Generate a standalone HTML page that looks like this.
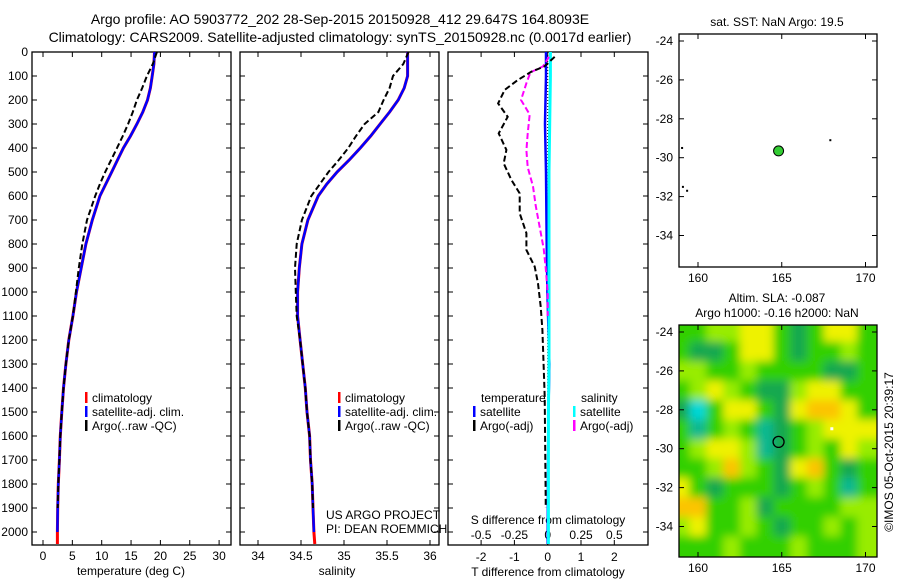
<!DOCTYPE html>
<html><head><meta charset="utf-8"><style>
html,body{margin:0;padding:0;background:#fff}
svg{display:block;font-family:"Liberation Sans",sans-serif;font-size:12px}
</style></head><body>
<svg id="chart" width="900" height="580" viewBox="0 0 900 580" xmlns="http://www.w3.org/2000/svg">
<defs>
<clipPath id="clipMap"><rect x="679" y="325" width="198" height="232"/></clipPath>
<filter id="blur" x="-20%" y="-20%" width="140%" height="140%"><feGaussianBlur stdDeviation="4.5"/></filter>
</defs>
<text x="340" y="24" text-anchor="middle" font-size="14">Argo profile: AO 5903772_202 28-Sep-2015 20150928_412 29.647S 164.8093E</text>
<text x="340" y="42" text-anchor="middle" font-size="14">Climatology: CARS2009. Satellite-adjusted climatology: synTS_20150928.nc (0.0017d earlier)</text>
<g id="g"></g>
<text x="777" y="26" text-anchor="middle">sat. SST: NaN Argo: 19.5</text>
<text x="777" y="302" text-anchor="middle">Altim. SLA: -0.087</text>
<text x="777" y="317" text-anchor="middle">Argo h1000: -0.16 h2000: NaN</text>
<text x="326" y="519">US ARGO PROJECT</text>
<text x="326" y="533">PI: DEAN ROEMMICH</text>
<text transform="translate(893,452) rotate(-90)" text-anchor="middle">©IMOS 05-Oct-2015 20:39:17</text>
</svg>
<script>
const depths=[0,50,100,150,200,250,300,350,400,450,500,550,600,700,800,900,1000,1100,1200,1300,1400,1500,1600,1700,1800,1900,2000,2050];
const tempClim=[19.0,18.9,18.6,18.3,17.8,17.0,16.0,14.9,13.7,12.7,11.7,10.7,9.7,8.4,7.3,6.5,5.7,5.1,4.4,3.9,3.5,3.2,2.95,2.8,2.6,2.5,2.45,2.45];
const tempArgo=[19.4,18.7,17.7,16.9,16.0,15.3,14.5,13.6,12.6,11.6,10.6,9.7,8.9,7.5,6.7,6.1,5.6,5.1,4.4,3.9,3.5,3.2,2.95,2.8,2.6,2.5];
const salClim=[35.74,35.74,35.74,35.70,35.63,35.53,35.42,35.31,35.19,35.06,34.92,34.80,34.70,34.58,34.51,34.48,34.46,34.46,34.49,34.52,34.55,34.57,34.60,34.61,34.63,34.64,34.65,34.66];
const salArgo=[35.75,35.69,35.57,35.53,35.46,35.40,35.24,35.14,35.05,34.94,34.82,34.72,34.62,34.51,34.45,34.43,34.44,34.45,34.49,34.52,34.55,34.57,34.60,34.61,34.63,34.64];
const tdDepths=[20,60,82,117,158,214,270,339,408,464,533,589,672,755,825,894,964,1061,1158,1436,1867,1900];
const tdArgo=[0.21,-0.1,-0.49,-0.9,-1.29,-1.49,-1.2,-1.47,-1.24,-1.32,-1.09,-0.84,-0.84,-0.64,-0.64,-0.39,-0.29,-0.21,-0.16,-0.09,-0.06,-0.06];
const sdDepths=[20,60,85,130,200,260,340,410,480,560,640,730,820,900,1000,1100];
const sdArgo=[0.01,-0.035,-0.13,-0.16,-0.2,-0.135,-0.15,-0.16,-0.15,-0.11,-0.09,-0.06,-0.03,-0.015,0,0];
const satDepths=[0,100,300,500,800,1000,1300,1500,2000,2050];
const tdSat=[-0.05,-0.05,-0.08,-0.05,-0.03,-0.01,0.05,0.02,0.0,0.0];
const sdSat=[0.02,0.02,0.015,0.01,0.01,0.01,0.01,0.005,0.005,0.005];
const depthTicks=[0,100,200,300,400,500,600,700,800,900,1000,1100,1200,1300,1400,1500,1600,1700,1800,1900,2000];
const tempTicks=[0,5,10,15,20,25,30];
const salTicks=[34,34.5,35,35.5,36];
const tdTicks=[-2,-1,0,1,2];
const sdTicks=[-0.5,-0.25,0,0.25,0.5];
const sdTickLabels=["-0.5","-0.25","0","0.25","0.5"];
const latTicks=[-24,-26,-28,-30,-32,-34];
const lonTicks=[160,165,170];
const gridLons=[159,160,161,162,163,164,165,166,167,168,169,170];
const gridLats=[-24,-25,-26,-27,-28,-29,-30,-31,-32,-33,-34,-35];
const slaGrid=[
[3,3,4,4,5,5,3,2,3,5,5,3],
[3,2,2,3,5,5,3,2,3,3,4,3],
[4,4,3,3,4,3,3,3,3,2,2,3],
[3,4,5,4,3,2,2,4,5,5,3,3],
[2,0,3,5,5,3,2,5,6,6,5,3],
[3,1,3,4,3,1,2,3,4,5,5,5],
[3,4,5,5,4,1,2,3,4,3,5,4],
[3,3,4,6,4,3,2,5,6,3,2,3],
[5,3,2,3,3,3,2,3,4,3,1,3],
[6,6,3,3,4,2,3,3,3,3,4,4],
[4,5,3,3,4,3,2,3,3,4,3,4],
[3,3,3,4,3,3,3,4,3,3,3,4]];
const argoLon=164.81, argoLat=-29.65;
const otherLons=[167.9,159.05,159.1,159.35];
const otherLats=[-29.1,-29.5,-31.5,-31.7];

const NS="http://www.w3.org/2000/svg";
const G=document.getElementById('g');
function mk(tag,attrs,parent){const e=document.createElementNS(NS,tag);for(const k in attrs)e.setAttribute(k,attrs[k]);(parent||G).appendChild(e);return e;}
function txt(x,y,s,anchor,parent){const t=mk('text',{x:x,y:y,'text-anchor':anchor||'middle'},parent);t.textContent=s;return t;}
const yD=d=>52+0.24*d;
const xT=t=>43+5.87*t;
const xS=s=>258+86*(s-34);
const xTD=t=>547.7+33.3*t;
const xSD=s=>547.7+133.3*s;
const PT=52,PB=545;
function panel(name,x0,x1){
  const r=mk('rect',{x:x0,y:PT,width:x1-x0,height:PB-PT,fill:'none',stroke:'#000','stroke-width':1.3});
  
  
  depthTicks.forEach(d=>{mk('line',{x1:x0,x2:x0+5,y1:yD(d),y2:yD(d),stroke:'#000'});mk('line',{x1:x1-5,x2:x1,y1:yD(d),y2:yD(d),stroke:'#000'});});
}
function path(xs,ys,xf,color,w,dash,name){
  let d='';for(let i=0;i<xs.length;i++)d+=(i?'L':'M')+xf(xs[i]).toFixed(1)+','+yD(ys[i]).toFixed(1);
  const p=mk('path',{d:d,fill:'none',stroke:color,'stroke-width':w});
  if(dash)p.setAttribute('stroke-dasharray',dash);
  
  
}
panel('temperature-panel',32,231);
depthTicks.forEach(d=>{const t=txt(28,yD(d)+4,String(d),'end');});
tempTicks.forEach(v=>{mk('line',{x1:xT(v),x2:xT(v),y1:PB-5,y2:PB,stroke:'#000'});mk('line',{x1:xT(v),x2:xT(v),y1:PT,y2:PT+5,stroke:'#000'});const t=txt(xT(v),560,String(v));});
const tl=txt(131,575,'temperature (deg C)');
path(tempClim,depths,xT,'#f00',3,null,'temperature-climatology-line');
path(tempClim.slice(0,27),depths.slice(0,27),xT,'#00f',2.5,null,'temperature-satellite-line');
path(tempArgo,depths.slice(0,tempArgo.length),xT,'#000',2,'6,3','temperature-argo-line');
panel('salinity-panel',240,439);
salTicks.forEach(v=>{mk('line',{x1:xS(v),x2:xS(v),y1:PB-5,y2:PB,stroke:'#000'});mk('line',{x1:xS(v),x2:xS(v),y1:PT,y2:PT+5,stroke:'#000'});const t=txt(xS(v),560,String(v));});
const sl=txt(337,575,'salinity');
path(salClim,depths,xS,'#f00',3,null,'salinity-climatology-line');
path(salClim.slice(0,27),depths.slice(0,27),xS,'#00f',2.5,null,'salinity-satellite-line');
path(salArgo,depths.slice(0,salArgo.length),xS,'#000',2,'6,3','salinity-argo-line');
function legend(x,y,color,label,name){
  const g=mk('g',{});
  
  
  mk('rect',{x:x,y:y-10,width:2.5,height:11,fill:color},g);txt(x+7,y,label,'start',g);
}
[[85,'temperature'],[338,'salinity']].forEach(([x,n])=>{
  legend(x,402,'#f00','climatology',n+'-legend-climatology');
  legend(x,416,'#00f','satellite-adj. clim.',n+'-legend-satellite');
  legend(x,430,'#000','Argo(..raw -QC)',n+'-legend-argo');
});
panel('difference-panel',448,648);
mk('line',{x1:xTD(0),x2:xTD(0),y1:PT,y2:PB,stroke:'#000','stroke-dasharray':'1,2'});
tdTicks.forEach(v=>{mk('line',{x1:xTD(v),x2:xTD(v),y1:PB-5,y2:PB,stroke:'#000'});mk('line',{x1:xTD(v),x2:xTD(v),y1:PT,y2:PT+5,stroke:'#000'});const t=txt(xTD(v),561,String(v));});
sdTicks.forEach((v,i)=>{const t=txt(xSD(v),539,sdTickLabels[i]);});
const sdl=txt(548,524,'S difference from climatology');
const tdl=txt(548,576,'T difference from climatology');
path(tdSat,satDepths,xTD,'#00f',2.5,null,'t-diff-satellite-line');
path(sdSat,satDepths,xSD,'#0ff',3,null,'s-diff-satellite-line');
path(sdArgo,sdDepths,xSD,'#f0f',2,'6,3','s-diff-argo-line');
path(tdArgo,tdDepths,xTD,'#000',2,'6,3','t-diff-argo-line');
const lt=txt(481,402,'temperature','start');
const ls=txt(581,402,'salinity','start');
legend(473,416,'#00f','satellite','legend-t-satellite');
legend(473,430,'#000','Argo(-adj)','legend-t-argo');
legend(573,416,'#0ff','satellite','legend-s-satellite');
legend(573,430,'#f0f','Argo(-adj)','legend-s-argo');
const xL=l=>698+16.75*(l-160);
function mapFrame(top,bottom,latTop,name){
  const yL=la=>top+7+19.45*(latTop-la);
  const r=mk('rect',{x:679,y:top,width:198,height:bottom-top,fill:'none',stroke:'#000','stroke-width':1.3});
  
  
  latTicks.forEach(la=>{mk('line',{x1:679,x2:684,y1:yL(la),y2:yL(la),stroke:'#000'});mk('line',{x1:872,x2:877,y1:yL(la),y2:yL(la),stroke:'#000'});const t=txt(673,yL(la)+4,String(la),'end');});
  lonTicks.forEach(lo=>{mk('line',{x1:xL(lo),x2:xL(lo),y1:bottom-5,y2:bottom,stroke:'#000'});mk('line',{x1:xL(lo),x2:xL(lo),y1:top,y2:top+5,stroke:'#000'});const t=txt(xL(lo),bottom+15,String(lo));});
  return yL;
}
const cmap=['#00d8d8','#10b890','#18a850','#30d000','#98ec00','#eef200','#fcc400'];
const yB=la=>332+19.45*(-24-la);
const hm=mk('g',{'clip-path':'url(#clipMap)'});


mk('rect',{x:679,y:325,width:198,height:232,fill:'#30d000'},hm);
const blurG=mk('g',{filter:'url(#blur)'},hm);
gridLats.forEach((la,i)=>gridLons.forEach((lo,j)=>{
  let x0=xL(lo-0.5),x1=xL(lo+0.5),y0=yB(la+0.5),y1=yB(la-0.5);
  if(j===0)x0-=20;if(j===gridLons.length-1)x1+=20;if(i===0)y0-=20;if(i===gridLats.length-1)y1+=20;
  const c=mk('rect',{x:x0,y:y0,width:x1-x0+0.5,height:y1-y0+0.5,fill:cmap[slaGrid[i][j]]},blurG);
  
  
}));
const yB2=mapFrame(325,557,-24,'sla-map-frame');
const oc=mk('circle',{cx:xL(argoLon),cy:yB2(argoLat),r:5.5,fill:'none',stroke:'#000','stroke-width':1.3});


mk('rect',{x:xL(167.9),y:yB2(-29.0)-2,width:3,height:3,fill:'#fff'});
const yT=mapFrame(34,267,-24,'sst-map-frame');
const gc=mk('circle',{cx:xL(argoLon),cy:yT(argoLat),r:5,fill:'#3c3',stroke:'#000','stroke-width':1});


otherLons.forEach((lo,i)=>{const d=mk('rect',{x:xL(lo)-1,y:yT(otherLats[i])-1,width:2,height:2,fill:'#000'});});
</script>
</body></html>
